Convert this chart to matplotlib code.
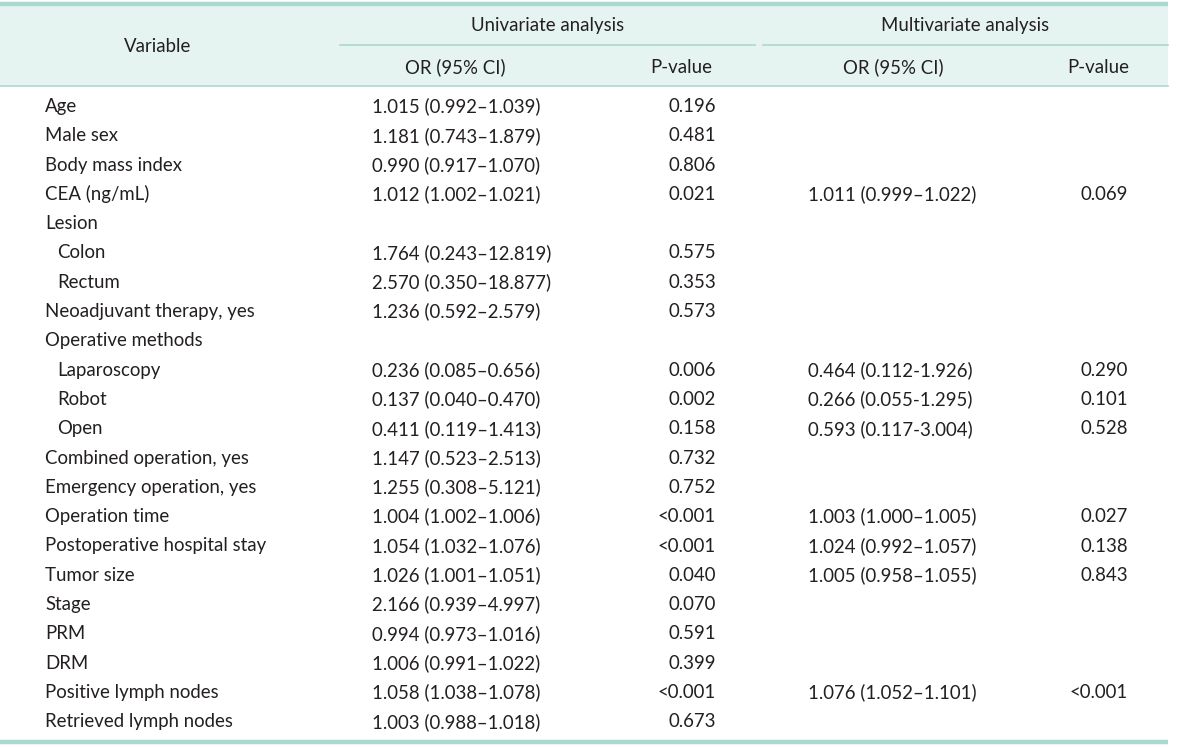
import matplotlib
matplotlib.use('Agg')
import matplotlib.pyplot as plt
from matplotlib.patches import Rectangle

# table contents
variables = ['Age', 'Male sex', 'Body mass index', 'CEA (ng/mL)', 'Lesion', 'Colon', 'Rectum',
             'Neoadjuvant therapy, yes', 'Operative methods', 'Laparoscopy', 'Robot', 'Open',
             'Combined operation, yes', 'Emergency operation, yes', 'Operation time',
             'Postoperative hospital stay', 'Tumor size', 'Stage', 'PRM', 'DRM',
             'Positive lymph nodes', 'Retrieved lymph nodes']
indented = [False, False, False, False, False, True, True, False, False, True, True, True,
            False, False, False, False, False, False, False, False, False, False]
uni_or = ['1.015 (0.992\u20131.039)', '1.181 (0.743\u20131.879)', '0.990 (0.917\u20131.070)',
          '1.012 (1.002\u20131.021)', '', '1.764 (0.243\u201312.819)', '2.570 (0.350\u201318.877)',
          '1.236 (0.592\u20132.579)', '', '0.236 (0.085\u20130.656)', '0.137 (0.040\u20130.470)',
          '0.411 (0.119\u20131.413)', '1.147 (0.523\u20132.513)', '1.255 (0.308\u20135.121)',
          '1.004 (1.002\u20131.006)', '1.054 (1.032\u20131.076)', '1.026 (1.001\u20131.051)',
          '2.166 (0.939\u20134.997)', '0.994 (0.973\u20131.016)', '1.006 (0.991\u20131.022)',
          '1.058 (1.038\u20131.078)', '1.003 (0.988\u20131.018)']
uni_p = ['0.196', '0.481', '0.806', '0.021', '', '0.575', '0.353', '0.573', '', '0.006', '0.002',
         '0.158', '0.732', '0.752', '<0.001', '<0.001', '0.040', '0.070', '0.591', '0.399',
         '<0.001', '0.673']
multi_or = ['', '', '', '1.011 (0.999\u20131.022)', '', '', '', '', '', '0.464 (0.112-1.926)',
            '0.266 (0.055-1.295)', '0.593 (0.117-3.004)', '', '', '1.003 (1.000\u20131.005)',
            '1.024 (0.992\u20131.057)', '1.005 (0.958\u20131.055)', '', '', '',
            '1.076 (1.052\u20131.101)', '']
multi_p = ['', '', '', '0.069', '', '', '', '', '', '0.290', '0.101', '0.528', '', '', '0.027',
           '0.138', '0.843', '', '', '', '<0.001', '']

txt = '#231f20'
line_col = '#a9d9cf'
head_bg = '#e6f4f1'
fs = 13.4
font = 'Lato'

fig = plt.figure(figsize=(12, 7.47), dpi=100)
ax = fig.add_axes([0, 0, 1, 1])
ax.set_xlim(0, 1200)
ax.set_ylim(747, 0)
ax.axis('off')

# header background and rules
ax.add_patch(Rectangle((0, 5), 1168, 80, facecolor=head_bg, edgecolor='none'))
ax.plot([0, 1168], [4, 4], color=line_col, lw=3.2, solid_capstyle='butt')
ax.plot([0, 1168], [85.5, 85.5], color=line_col, lw=1.2)
ax.plot([340, 755], [44.5, 44.5], color=line_col, lw=1.2)
ax.plot([763, 1168], [44.5, 44.5], color=line_col, lw=1.2)
ax.plot([0, 1168], [742, 742], color=line_col, lw=3.2, solid_capstyle='butt')

kw = dict(fontsize=fs, family=font, color=txt, va='center')
ax.text(158, 46.5, 'Variable', ha='center', **kw)
ax.text(548, 25.5, 'Univariate analysis', ha='center', **kw)
ax.text(965, 25.5, 'Multivariate analysis', ha='center', **kw)
ax.text(455, 67.5, 'OR (95% CI)', ha='center', **kw)
ax.text(681, 67.5, 'P-value', ha='center', **kw)
ax.text(893, 67.5, 'OR (95% CI)', ha='center', **kw)
ax.text(1098, 67.5, 'P-value', ha='center', **kw)

y0, dy = 106.5, 29.3
for i, name in enumerate(variables):
    y = y0 + i * dy
    ax.text(57 if indented[i] else 45, y, name, ha='left', **kw)
    ax.text(372, y, uni_or[i], ha='left', **kw)
    ax.text(716, y, uni_p[i], ha='right', **kw)
    ax.text(808, y, multi_or[i], ha='left', **kw)
    ax.text(1128, y, multi_p[i], ha='right', **kw)

fig.savefig('out.png', dpi=100, facecolor='white')
